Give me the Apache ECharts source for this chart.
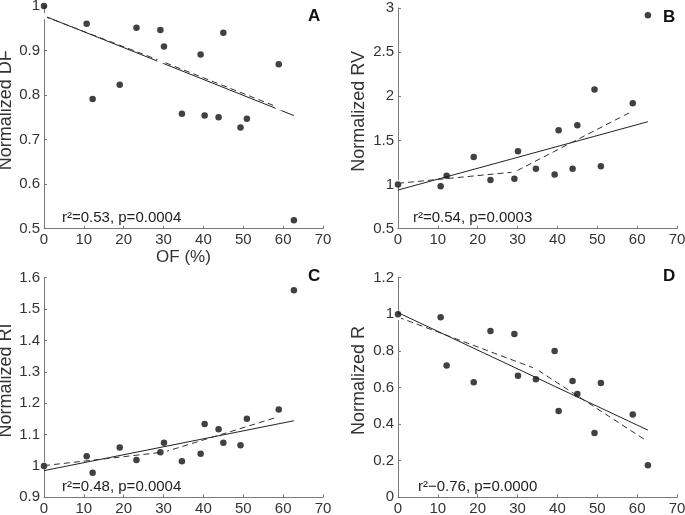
<!DOCTYPE html>
<html>
<head>
<meta charset="utf-8">
<script src="https://cdn.jsdelivr.net/npm/echarts@6/dist/echarts.min.js"></script>
<style>
html,body{margin:0;padding:0;background:#fff;}
#chart{width:685px;height:515px;}
</style>
</head>
<body>
<div id="chart"></div>
<script>
// ---- data ----
const ofPct  = [0, 10.7, 12.2, 19.0, 23.2, 29.2, 30.1, 34.6, 39.3, 40.3, 43.8, 45.0, 49.3, 50.9, 58.9, 62.7];
const dfVals = [1.0, 0.960, 0.791, 0.823, 0.951, 0.946, 0.909, 0.758, 0.891, 0.754, 0.750, 0.940, 0.727, 0.747, 0.869, 0.519];
const rvVals = [1.0, 0.980, 1.100, 1.312, 1.051, 1.066, 1.376, 1.180, 1.115, 1.614, 1.180, 1.671, 2.078, 1.206, 1.920, 2.917];
const riVals = [1.0, 1.031, 0.978, 1.059, 1.019, 1.044, 1.074, 1.015, 1.039, 1.134, 1.117, 1.074, 1.066, 1.150, 1.180, 1.560];
const rVals  = [1.0, 0.984, 0.720, 0.629, 0.909, 0.893, 0.664, 0.645, 0.800, 0.471, 0.636, 0.565, 0.351, 0.625, 0.453, 0.175];

const fitX  = [0, 62.7];
const dfFit = [0.978, 0.754];
const rvFit = [0.938, 1.712];
const riFit = [0.985, 1.144];
const rFit  = [1.009, 0.367];

const dfBinX = [0, 29.2, 58.9];  const dfBinY = [0.977, 0.877, 0.772];
const rvBinX = [0, 29.2, 58.9];  const rvBinY = [1.014, 1.142, 1.833];
const riBinX = [0, 30.1, 58.9];  const riBinY = [1.001, 1.044, 1.157];
const rBinX  = [0, 34.6, 62.7];  const rBinY  = [0.985, 0.702, 0.304];

const yNames  = ['Normalized DF', 'Normalized RV', 'Normalized RI', 'Normalized R'];
const yMins   = [0.5, 0.5, 0.9, 0];
const yMaxs   = [1, 3, 1.6, 1.2];
const yStep   = [0.1, 0.5, 0.1, 0.2];
const xTicks  = [0, 70, 10];
const statTxt = ['r\u00b2=0.53, p=0.0004', 'r\u00b2=0.54, p=0.0003', 'r\u00b2=0.48, p=0.0004', 'r\u00b2\u22120.76, p=0.0000'];
const panels  = ['A', 'B', 'C', 'D'];
const xName   = 'OF (%)';

// ---- build ----
const FONT = 'Liberation Sans, Arial, Helvetica, sans-serif';
const zip = (xs, ys) => xs.map((x, i) => [x, ys[i]]);
const pts   = [dfVals, rvVals, riVals, rVals];
const fits  = [dfFit, rvFit, riFit, rFit];
const binsX = [dfBinX, rvBinX, riBinX, rBinX];
const binsY = [dfBinY, rvBinY, riBinY, rBinY];

const grids = [
  {left: 44,  top: 6,     width: 279, height: 222.7},
  {left: 398, top: 8,     width: 279, height: 220.7},
  {left: 44,  top: 277.7, width: 279, height: 219.6},
  {left: 398, top: 277.7, width: 279, height: 219.6}
].map(g => Object.assign(g, {containLabel: false, outerBoundsMode: 'none'}));

const nameGaps = [25.5, 30, 25.5, 30];

const xAxis = grids.map((g, i) => ({
  gridIndex: i, type: 'value', min: xTicks[0], max: xTicks[1], interval: xTicks[2],
  name: i === 0 ? xName : '', nameLocation: 'middle', nameGap: 17,
  nameTextStyle: {color: '#333', fontSize: 17, fontFamily: FONT},
  axisLine: {show: true, lineStyle: {color: '#7a7a7a', width: 1}},
  axisTick: {show: true, inside: true, length: 3, lineStyle: {color: '#7a7a7a'}},
  axisLabel: {color: '#333', fontSize: 15, fontFamily: FONT, margin: 4, showMaxLabel: true},
  splitLine: {show: false}
}));

const yAxis = grids.map((g, i) => ({
  gridIndex: i, type: 'value', min: yMins[i], max: yMaxs[i], interval: yStep[i],
  name: yNames[i], nameLocation: 'middle', nameGap: nameGaps[i], nameRotate: 90,
  nameTextStyle: {color: '#333', fontSize: 18, fontFamily: FONT, padding: [0, 0, 0, 14]},
  axisLine: {show: true, onZero: false, lineStyle: {color: '#7a7a7a', width: 1}},
  axisTick: {show: true, inside: true, length: 3, lineStyle: {color: '#7a7a7a'}},
  axisLabel: {color: '#333', fontSize: 15, fontFamily: FONT, margin: 4,
    formatter: v => String(Math.round(v * 100) / 100)},
  splitLine: {show: false}
}));

const series = [];
for (let i = 0; i < 4; i++) {
  series.push({
    type: 'line', xAxisIndex: i, yAxisIndex: i, data: zip(fitX, fits[i]),
    symbol: 'none', lineStyle: {color: '#222', width: 1}, z: 2, silent: true
  });
  series.push({
    type: 'line', xAxisIndex: i, yAxisIndex: i, data: zip(binsX[i], binsY[i]),
    symbol: 'emptyRect', symbolSize: 4, showAllSymbol: true,
    itemStyle: {color: '#fff', borderColor: '#444', borderWidth: 0.8},
    lineStyle: {color: '#333', width: 1, type: [6, 4]}, z: 3, silent: true
  });
  series.push({
    type: 'scatter', xAxisIndex: i, yAxisIndex: i, data: zip(ofPct, pts[i]),
    symbol: 'circle', symbolSize: 6.5, itemStyle: {color: '#111'}, z: 4, silent: true
  });
}

const letterPos = [[308, 8], [663, 9], [308, 268], [663, 268]];
const statPos   = [[62, 210], [413, 210], [62, 479], [418, 479]];
const graphic = [];
for (let i = 0; i < 4; i++) {
  graphic.push({type: 'text', left: letterPos[i][0], top: letterPos[i][1],
    style: {text: panels[i], fill: '#111', font: 'bold 17px ' + FONT}});
  graphic.push({type: 'text', left: statPos[i][0], top: statPos[i][1],
    style: {text: statTxt[i], fill: '#222', font: '15px ' + FONT}});
}

const chart = echarts.init(document.getElementById('chart'), null, {renderer: 'canvas'});
chart.setOption({
  animation: false,
  backgroundColor: '#fff',
  grid: grids, xAxis: xAxis, yAxis: yAxis, series: series, graphic: graphic
});
</script>
</body>
</html>
